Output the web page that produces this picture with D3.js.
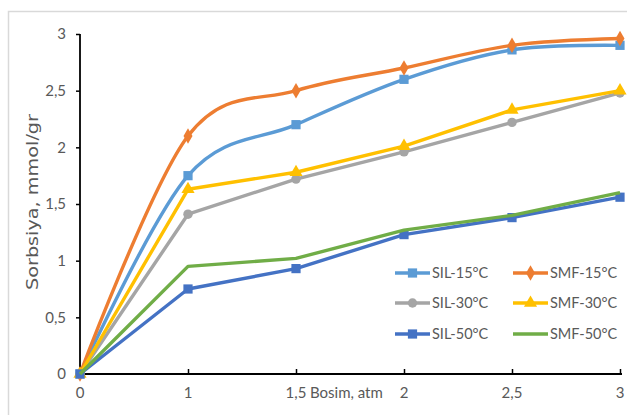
<!DOCTYPE html>
<html><head><meta charset="utf-8">
<script src="https://cdn.jsdelivr.net/npm/d3@7"></script>
<style>body{margin:0;background:#fff;}svg{display:block;}</style>
</head><body>
<svg id="c" width="627" height="415"></svg>
<script>
const categories = ["0","1","1,5","2","2,5","3"];
const yTicks = [0,0.5,1,1.5,2,2.5,3];
const yTickLabels = ["0","0,5","1","1,5","2","2,5","3"];
const seriesNames = ["SIL-15°C","SMF-15°C","SIL-30°C","SMF-30°C","SIL-50°C","SMF-50°C"];
const sil15 = [0,1.75,2.2,2.6,2.86,2.9];
const smf15 = [0,2.1,2.5,2.7,2.9,2.96];
const sil30 = [0,1.41,1.72,1.96,2.22,2.48];
const smf30 = [0,1.63,1.78,2.01,2.33,2.5];
const sil50 = [0,0.75,0.93,1.23,1.38,1.56];
const smf50 = [0,0.95,1.02,1.27,1.4,1.6];
const colors = ["#5B9BD5","#ED7D31","#A5A5A5","#FFC000","#4472C4","#70AD47"];
const markers = ["square","diamond","circle","triangle","square",null];
const smooth = [true,true,false,false,false,false];
const xTitle = "Bosim, atm";
const yTitle = "Sorbsiya, mmol/gr";

const series = [sil15,smf15,sil30,smf30,sil50,smf50].map((v,i)=>({name:seriesNames[i],values:v,color:colors[i],marker:markers[i],smooth:smooth[i]}));

const svg = d3.select("#c");
const font = "Lato, 'Open Sans', sans-serif";
svg.append("rect").attr("x",8.5).attr("y",11.5).attr("width",700).attr("height",500)
  .attr("fill","#fff").attr("stroke","#d9d9d9").attr("stroke-width",1.5);

const x = d3.scalePoint().domain(categories).range([80,620]);
const y = d3.scaleLinear().domain([0,3]).range([374,34]);

// axes
const yAxis = svg.append("g").attr("transform","translate(80,0)")
  .call(d3.axisLeft(y).tickValues(yTicks).tickFormat((d,i)=>yTickLabels[i]).tickSize(4).tickPadding(10));
const xAxis = svg.append("g").attr("transform","translate(0,374)")
  .call(d3.axisTop(x).tickSize(5).tickFormat(""));
[yAxis,xAxis].forEach(g=>{
  g.select(".domain").attr("stroke","#000").attr("stroke-width",1.8);
  g.selectAll(".tick line").attr("stroke","#000").attr("stroke-width",1.5);
});
yAxis.select(".domain").attr("d","M80,34V374").attr("transform","translate(-80,0)");
yAxis.selectAll(".tick text").attr("fill","#595959").style("font-family",font).style("font-size","15px");
xAxis.select(".domain").attr("d","M80,0H622");
// x labels
svg.append("g").selectAll("text").data(categories).join("text")
  .attr("x",d=>x(d)).attr("y",398).attr("text-anchor","middle")
  .attr("fill","#595959").style("font-family",font).style("font-size","15px").text(d=>d);
svg.append("text").attr("x",310).attr("y",398).attr("fill","#595959")
  .style("font-family",font).style("font-size","15px").text(xTitle);
svg.append("text").attr("transform","translate(38,202) rotate(-90)").attr("text-anchor","middle")
  .attr("fill","#595959").style("font-family","'DejaVu Sans', sans-serif").style("font-size","15px")
  .attr("textLength",176).attr("lengthAdjust","spacingAndGlyphs").text(yTitle);

function symbolFor(m){
  return {square:d3.symbolSquare,diamond:d3.symbolDiamond,circle:d3.symbolCircle,triangle:d3.symbolTriangle}[m];
}
const sizes = {square:85,diamond:70,circle:70,triangle:75};

series.forEach(s=>{
  const line = d3.line().x((d,i)=>x(categories[i])).y(d=>y(d))
    .curve(s.smooth ? d3.curveCatmullRom.alpha(0) : d3.curveLinear);
  svg.append("path").attr("d",line(s.values)).attr("fill","none")
    .attr("stroke",s.color).attr("stroke-width",3.4).attr("stroke-linejoin","round");
  if(s.marker){
    svg.append("g").selectAll("path").data(s.values).join("path")
      .attr("transform",(d,i)=>`translate(${x(categories[i])},${y(d)})`)
      .attr("d",d3.symbol(symbolFor(s.marker),sizes[s.marker])).attr("fill",s.color);
  }
});

// legend
const legendPos = [[395,273],[513,273],[395,303],[513,303],[395,334],[513,334]];
series.forEach((s,i)=>{
  const [lx,ly]=legendPos[i];
  const g = svg.append("g").attr("transform",`translate(${lx},${ly})`);
  g.append("line").attr("x1",0).attr("x2",35).attr("y1",0).attr("y2",0)
    .attr("stroke",s.color).attr("stroke-width",3.4);
  if(s.marker) g.append("path").attr("transform","translate(17.5,0)")
    .attr("d",d3.symbol(symbolFor(s.marker),sizes[s.marker])).attr("fill",s.color);
  g.append("text").attr("x",37).attr("y",5).attr("fill","#595959")
    .style("font-family",font).style("font-size","14.5px").text(s.name);
});
</script>
</body></html>
